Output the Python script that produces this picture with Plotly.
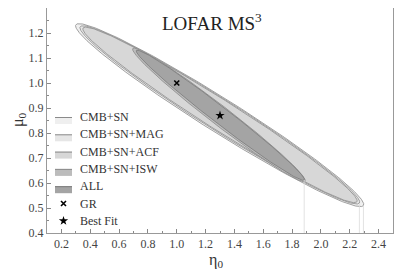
import numpy as np
import plotly.graph_objects as go

# ---- data ----
region_names = ["CMB+SN", "CMB+SN+MAG", "CMB+SN+ACF", "CMB+SN+ISW", "ALL"]
tip_eta_left = [0.300, 0.330, 0.350, 0.695, 0.720]
tip_mu_left = [1.233, 1.225, 1.220, 1.138, 1.130]
tip_eta_right = [2.295, 2.267, 2.250, 1.890, 1.884]
tip_mu_right = [0.510, 0.520, 0.525, 0.607, 0.612]
axis_ratio = [0.100, 0.096, 0.092, 0.088, 0.078]

gr_eta = [1.0]
gr_mu = [1.0]
bf_eta = [1.3]
bf_mu = [0.87]

x_ticks = [0.2, 0.4, 0.6, 0.8, 1.0, 1.2, 1.4, 1.6, 1.8, 2.0, 2.2, 2.4]
y_ticks = [0.4, 0.5, 0.6, 0.7, 0.8, 0.9, 1.0, 1.1, 1.2, 1.3]

drop_eta = [1.884, 2.267, 2.295]
drop_mu = [0.612, 0.520, 0.510]

legend_labels = ["CMB+SN", "CMB+SN+MAG", "CMB+SN+ACF", "CMB+SN+ISW", "ALL", "GR", "Best Fit"]

# ---- styles ----
fills = ["#efefef", "#e6e6e6", "#d7d7d7", "#bcbcbc", "#a4a4a4"]
lines = ["#8a8a8a", "#8a8a8a", "#8a8a8a", "#8a8a8a", "#7a7a7a"]

PAGE_OFF = 8          # default page body margin
W, H = 407 - PAGE_OFF, 271 - PAGE_OFF
ml, mr, mt, mb = 39, 14, 0, 38
PL, PR, PT, PB = ml + PAGE_OFF, 407 - mr, mt + PAGE_OFF, 271 - mb  # plot box in window px
PW, PH = PR - PL, PB - PT
xr = [0.1, 2.5]
yr = [0.4, 1.3]
sx = PW / (xr[1] - xr[0])
sy = PH / (yr[1] - yr[0])


def paper_x(px):
    return (px - PL) / PW


def paper_y(py):
    return (PB - py) / PH


FONT = "'Liberation Serif', 'Times New Roman', Times, serif"

fig = go.Figure()

t = np.linspace(0, 2 * np.pi, 400)
for i, name in enumerate(region_names):
    p1 = np.array([tip_eta_left[i] * sx, tip_mu_left[i] * sy])
    p2 = np.array([tip_eta_right[i] * sx, tip_mu_right[i] * sy])
    c = (p1 + p2) / 2
    a = (p2 - p1) / 2
    la = np.hypot(*a)
    perp = np.array([-a[1], a[0]]) / la
    b = perp * la * axis_ratio[i]
    px = c[0] + np.cos(t) * a[0] + np.sin(t) * b[0]
    py = c[1] + np.cos(t) * a[1] + np.sin(t) * b[1]
    fig.add_trace(go.Scatter(
        x=px / sx, y=py / sy, mode="lines", fill="toself",
        fillcolor=fills[i], line=dict(color=lines[i], width=0.8),
        name=name, hoverinfo="skip", showlegend=False))

# faint projection lines from tips
for e, m in zip(drop_eta, drop_mu):
    fig.add_trace(go.Scatter(x=[e, e], y=[yr[0], m], mode="lines",
                             line=dict(color="#dcdcdc", width=0.8),
                             showlegend=False, hoverinfo="skip"))

fig.add_trace(go.Scatter(x=gr_eta, y=gr_mu, mode="markers", name="GR", showlegend=False,
                         marker=dict(symbol="x-thin", size=5, color="black",
                                     line=dict(width=1.6, color="black"))))
fig.add_trace(go.Scatter(x=bf_eta, y=bf_mu, mode="markers", name="Best Fit", showlegend=False,
                         marker=dict(symbol="star", size=7, color="black")))

# ---- manual legend on an overlay pixel axis ----
leg_y0, leg_dy = 117.0, 17.3
sw_x0, sw_x1, txt_x = 55, 72, 78
shapes = []
annotations = []
for i, lab in enumerate(legend_labels):
    yc = leg_y0 + leg_dy * i
    if i < len(region_names):
        shapes.append(dict(type="rect", xref="x2", yref="y2", x0=sw_x0, x1=sw_x1,
                           y0=yc, y1=yc + 7, fillcolor=fills[i], line=dict(width=0)))
        shapes.append(dict(type="line", xref="x2", yref="y2", x0=sw_x0, x1=sw_x1,
                           y0=yc + 0.5, y1=yc + 0.5, line=dict(color=lines[i], width=1)))
    annotations.append(dict(text=lab, x=txt_x, y=yc, xref="x2", yref="y2",
                            xanchor="left", yanchor="middle", showarrow=False,
                            font=dict(family=FONT, size=12, color="#333333")))

gy = leg_y0 + leg_dy * 5
by = leg_y0 + leg_dy * 6
fig.add_trace(go.Scatter(x=[(sw_x0 + sw_x1) / 2], y=[gy], xaxis="x2", yaxis="y2",
                         mode="markers", showlegend=False, hoverinfo="skip",
                         marker=dict(symbol="x-thin", size=5, color="black",
                                     line=dict(width=1.6, color="black"))))
fig.add_trace(go.Scatter(x=[(sw_x0 + sw_x1) / 2], y=[by], xaxis="x2", yaxis="y2",
                         mode="markers", showlegend=False, hoverinfo="skip",
                         marker=dict(symbol="star", size=7, color="black")))

# title and axis titles
annotations.append(dict(text="LOFAR MS<sup>3</sup>", x=212, y=22, xref="x2", yref="y2",
                        xanchor="center", yanchor="middle", showarrow=False,
                        font=dict(family=FONT, size=19, color="#222222")))
annotations.append(dict(text="η<sub>0</sub>", x=paper_x(216), y=paper_y(261), xref="paper",
                        yref="paper", xanchor="center", yanchor="middle", showarrow=False,
                        font=dict(family=FONT, size=16, color="#333333")))
annotations.append(dict(text="μ<sub>0</sub>", x=paper_x(18), y=paper_y(120), xref="paper",
                        yref="paper", xanchor="center", yanchor="middle", showarrow=False,
                        textangle=-90, font=dict(family=FONT, size=16, color="#333333")))

axis_common = dict(showgrid=False, zeroline=False, showline=True, linecolor="#999999",
                   linewidth=1, mirror=True, ticks="inside", ticklen=4, tickcolor="#888888",
                   automargin=False,
                   tickfont=dict(family=FONT, size=12, color="#444444"))

fig.update_layout(
    xaxis=dict(range=xr, tickvals=x_ticks, ticktext=[f"{v:.1f}" for v in x_ticks],
               minor=dict(ticks="inside", ticklen=2, dtick=0.1, tick0=0.1, tickcolor="#888888"),
               **axis_common),
    yaxis=dict(range=yr, tickvals=y_ticks, ticktext=[f"{v:.1f}" for v in y_ticks],
               minor=dict(ticks="inside", ticklen=2, dtick=0.05, tick0=0.4, tickcolor="#888888"),
               **axis_common),
    xaxis2=dict(range=[PL, PR], overlaying="x", visible=False, fixedrange=True),
    yaxis2=dict(range=[PB, PT], overlaying="y", visible=False, fixedrange=True),
    width=W, height=H,
    margin=dict(l=ml, r=mr, t=mt, b=mb),
    paper_bgcolor="white", plot_bgcolor="white",
    font=dict(family=FONT, color="#333333"),
    showlegend=False,
    shapes=shapes,
    annotations=annotations,
)

fig.write_html("out.html")
